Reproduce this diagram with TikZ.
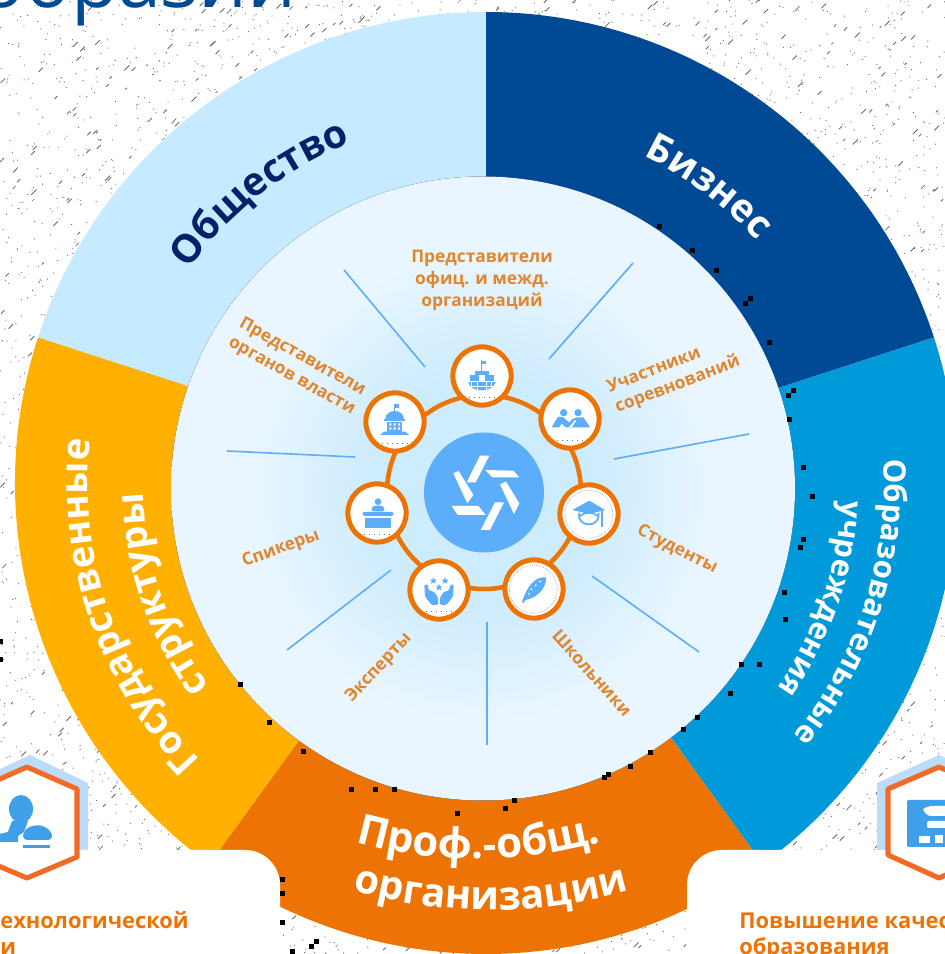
\documentclass[tikz,border=0pt]{standalone}
\usepackage{fontspec}
\setmainfont{Open Sans}
\usetikzlibrary{decorations.text,calc}
\definecolor{secA}{HTML}{C6EAFF}
\definecolor{secB}{HTML}{004A95}
\definecolor{secC}{HTML}{009ADB}
\definecolor{secD}{HTML}{ED7404}
\definecolor{secE}{HTML}{FFB000}
\definecolor{navy}{HTML}{00226B}
\definecolor{lblor}{HTML}{E2862E}
\definecolor{sky}{HTML}{5CAEFB}
\definecolor{hexo}{HTML}{F26A25}
\definecolor{hexl}{HTML}{BCDCFB}
\definecolor{hexi}{HTML}{3F9FE8}
\definecolor{dA}{HTML}{CDECFE}
\definecolor{dB}{HTML}{EAF6FF}
\definecolor{dC}{HTML}{D6EEFD}
\pgfdeclareradialshading{discshade}{\pgfpoint{0bp}{0bp}}{color(0bp)=(dA);color(9bp)=(dA);color(19bp)=(dB);color(29bp)=(dB);color(35.4bp)=(dC);color(50bp)=(dC)}
\tikzset{
  px/.style={shift={(0,954)},y=-.75pt},
  zm/.style={shift={(330,614)},x=.25pt,y=-.25pt},
  bub/.style={circle,draw=secD,line width=3.75pt,fill=white,minimum size=43.7pt,inner sep=0pt},
  lbl/.style={text=lblor,font=\fontsize{13}{16.5}\selectfont\bfseries,align=center,inner sep=0pt},
  spoke/.style={draw=sky,line width=1.2pt},
  ic/.style={fill=sky,draw=none},
  icl/.style={draw=sky,line width=1.3pt,fill=none},
  blk/.style={fill=black,draw=none},
  card/.style={text=secD,font=\fontsize{16.4}{19}\selectfont\bfseries,inner sep=0pt}
}
\newcommand{\arctext}[6]{\path[decorate,decoration={text along path,text align=center,text={|\fontsize{#4}{#4}\selectfont\bfseries\color{#5}|#6}}] ($(C)+(#1:#3)$) arc (#1:#2:#3);}
\newcommand{\arctextat}[7]{\path[decorate,decoration={text along path,text align=center,text={|\fontsize{#5}{#5}\selectfont\bfseries\color{#6}|#7}}] ($(#1)+(#2:#4)$) arc (#2:#3:#4);}
\newcommand{\sector}[3]{\fill[#3] (C) -- ($(C)+(#1:471)$) arc (#1:#2:471) -- cycle;}
\begin{document}
\begin{tikzpicture}[x=.75pt,y=.75pt]
\useasboundingbox (0,0) rectangle (945,954);
\clip (0,0) rectangle (945,954);
\fill[white] (0,0) rectangle (945,954);
\coordinate (C) at (486,471);
\coordinate (Cp) at (478,545);
\coordinate (Co) at (491,544);
% background speckle
\pgfmathsetseed{7}
\begin{scope}[px]
\foreach \i in {1,...,8000}{
  \pgfmathsetmacro\xx{rnd*945}
  \pgfmathsetmacro\yy{rnd*954}
  \pgfmathsetmacro\ll{rnd<0.85 ? 0.4 : 1.5+rnd*3.5}
  \draw[black!58,line width=.65pt,line cap=round] (\xx,\yy) -- ++(\ll,-\ll);
}
\node[anchor=base west,inner sep=0pt,text=secB,font=\fontsize{58}{58}\selectfont] (title) at (-22,8) {образии};
\end{scope}
% sectors
\sector{90}{162}{secA}
\sector{18}{90}{secB}
\sector{-54}{18}{secC}
\sector{-126}{-54}{secD}
\sector{162}{234}{secE}
\begin{scope}[px]
\fill[hexl] (30,755) -- (88,783) -- (88,860) -- (-30,860) -- (-30,783) -- cycle;
\fill[hexl] (939,755) -- (877,783) -- (877,860) -- (1000,860) -- (1000,783) -- cycle;
\fill[white,rounded corners=26.25pt] (-60,850) -- (280,850) -- (280,1020) -- (-60,1020) -- cycle;
\fill[white,rounded corners=26.25pt] (687,1020) -- (687,850) -- (1010,850) -- (1010,1020) -- cycle;
\draw[hexo,line width=3.8pt,fill=white,line join=round] (27,767) -- (77,789) -- (77,857) -- (27,878) -- (-23,857) -- (-23,789) -- cycle;
\draw[hexo,line width=3.8pt,fill=white,line join=round] (939,767) -- (888,789) -- (888,855) -- (939,878) -- (990,855) -- (990,789) -- cycle;
% person icon
\fill[hexi] (21,809) ellipse (12 and 14);
\fill[hexi] (12,821) -- (28,821) -- (24,832) -- (18,836) -- (18,842) -- (-10,842) -- (-10,836) -- (8,832) -- cycle;
\fill[hexi,rounded corners=3pt] (23,832) -- (30,826) -- (42,825) -- (52,832) -- (52,840) -- (23,840) -- cycle;
\fill[hexi] (23,845) rectangle (50,848);
% document icon
\fill[hexi,rounded corners=1pt] (907,800) rectangle (950,847);
\fill[white,rounded corners=2pt] (922,809) -- (930,806) -- (950,806) -- (950,816) -- (928,816) -- cycle;
\fill[white,rounded corners=1.5pt] (927,821) rectangle (950,828);
\fill[white] (919,836) -- (930,836) -- (930,843) -- (919,843) -- cycle;
\fill[white] (935,835) -- (943,835) -- (943,843) -- (935,843) -- cycle;
\end{scope}
% inner disc
\fill[shading=discshade] (483,465.5) circle (312);
\begin{scope}[px]
\draw[spoke] (344,270) -- (425,367);
\draw[spoke] (633,263) -- (549,359);
\draw[spoke] (749,434) -- (614,459);
\draw[spoke] (592,576) -- (699,652);
\draw[spoke] (487,622) -- (487,745);
\draw[spoke] (391,570) -- (287,650);
\draw[spoke] (355,457) -- (227,451);
\node[circle,draw=secD,line width=3.4pt,minimum size=145.5pt,inner sep=0pt] (ring) at (484,492) {};
\node[circle,fill=sky,minimum size=90pt,inner sep=0pt] (hub) at (484,492.5) {};
\node[bub] (n1) at (482,376) {};
\node[bub] (n2) at (570,419) {};
\node[bub] (n3) at (589,514) {};
\node[bub] (n4) at (534,589) {};
\node[bub] (n5) at (439,590) {};
\node[bub] (n6) at (377,513) {};
\node[bub] (n7) at (395,422) {};
\foreach \cx/\cy in {482/376,570/419,377/513,395/422,439/590}{
  \draw[black!55,line width=.4pt,dash pattern=on .8pt off 3pt] (\cx-13,\cy+21) -- (\cx+13,\cy+21);
}
\node[lbl] (l1) at (482,280) {Представители\\офиц. и межд.\\организаций};
\node[lbl,rotate=21,align=left] (l2) at (674,375) {Участники\\соревнований};
\node[lbl,rotate=-27] (l3) at (677,550) {Студенты};
\node[lbl,rotate=-48] (l4) at (592,673) {Школьники};
\node[lbl,rotate=47] (l5) at (379,668) {Эксперты};
\node[lbl,rotate=20] (l6) at (281,549) {Спикеры};
\node[lbl,rotate=-29,align=left] (l7) at (297,367) {Представители\\органов власти};
\node[card,anchor=base east] (c1) at (189,928) {ехнологической};
\node[card,anchor=base west] (c2) at (0,955) {и};
\node[card,anchor=base west] (c3) at (739,928) {Повышение качества};
\node[card,anchor=base west] (c4) at (739,955) {образования};
\foreach \bx/\by in {659/227,692/251,716/271,750/299,745/304,769/343,793/391,788/396,789/420,803/468,812/497,803/540,800/548,784/593,785/620,759/665,741/665,730/694,697/718,683/730,650/753,630/767,604/778,608/775,514/801,505/809,457/814,394/790,375/790,351/790,303/752,269/723,240/685,282/880,282/894,282/923,316/942,311/947,292/952,0/642,0/660}{
  \fill[blk] (\bx-2.5,\by-2.5) rectangle (\bx+2.5,\by+2.5);
}
\end{scope}
% icons and logo, in 3x crop coordinates
\begin{scope}[zm]
% logo
\fill[white] (450,347) -- (478,347) -- (437,427) -- (410,427) -- cycle;
\fill[white] (465,390) -- (550,392) -- (568,412) -- (487,412) -- cycle;
\fill[white] (510,433) -- (528,425) -- (568,490) -- (552,522) -- cycle;
\fill[white] (495,487) -- (522,487) -- (480,570) -- (452,570) -- cycle;
\fill[white] (365,498) -- (445,498) -- (467,525) -- (383,525) -- cycle;
\fill[white] (370,400) -- (386,393) -- (430,465) -- (412,490) -- cycle;
% n1 building on globe
\fill[ic] (452,60) rectangle (455,92);
\fill[ic] (455,62) -- (468,62) -- (468,73) -- (455,73) -- cycle;
\fill[ic] (435,92) rectangle (477,125);
\fill[ic] (420,104) rectangle (492,125);
\fill[ic] (414,125) .. controls (420,160) and (490,160) .. (497,125) -- cycle;
\draw[white,line width=.5pt] (414,125) -- (497,125) (425,125) -- (425,140) (442,125) -- (442,150) (468,125) -- (468,150) (485,125) -- (485,140) (422,138) -- (490,138);
\fill[white] (447,105) rectangle (465,125);
% n7 capitol
\fill[ic] (192,192) rectangle (195,215);
\fill[ic] (195,193) -- (208,193) -- (208,204) -- (195,204) -- cycle;
\fill[ic] (166,237) .. controls (168,205) and (220,205) .. (222,237) -- cycle;
\fill[ic] (163,238) rectangle (225,243);
\fill[ic] (172,245) rectangle (216,275);
\fill[ic] (162,275) -- (226,275) -- (238,285) -- (150,285) -- cycle;
\fill[white] (178,250) rectangle (184,257) (191,250) rectangle (197,257) (204,250) rectangle (210,257) (178,262) rectangle (184,269) (191,262) rectangle (197,269) (204,262) rectangle (210,269);
% n2 two people
\fill[ic] (701,218) circle (11);
\fill[ic] (744,218) circle (11);
\fill[ic] (665,262) -- (684,230) -- (700,232) -- (718,248) -- (726,238) -- (742,232) -- (760,232) -- (780,262) -- (736,262) -- (722,262) -- (706,262) -- (695,250) -- (688,262) -- cycle;
\fill[white] (717,262) -- (735,240) -- (738,243) -- (725,262) -- cycle;
% n6 speaker
\fill[ic] (144,485) circle (10);
\fill[ic,rounded corners=1pt] (125,514) -- (125,502) -- (133,497) -- (155,497) -- (163,502) -- (163,514) -- cycle;
\fill[ic,rounded corners=1pt] (98,516) rectangle (190,528);
\fill[ic] (104,533) rectangle (184,565);
% n3 graduate
\draw[black!55,line width=.4pt,densely dotted] (777,523) circle (72);
\fill[ic] (727,510) -- (778,482) -- (825,510) -- (778,522) -- cycle;
\draw[icl] (748,518) .. controls (738,565) and (815,565) .. (805,518);
\draw[icl] (750,528) .. controls (765,515) and (790,515) .. (803,528);
\draw[icl] (815,512) -- (815,562);
% n4 feather
\draw[black!55,line width=.4pt,densely dotted] (610,748) circle (72);
\fill[ic] (576,786) .. controls (592,735) and (618,708) .. (648,712) .. controls (650,745) and (620,775) .. (586,780) -- (580,790) -- cycle;
\fill[white] (604,748) circle (3) (617,736) circle (3) (630,724) circle (3) (596,762) circle (2.5);
% n5 hands
\foreach \sx/\sy in {310/722,345/722,327/742}{
  \fill[ic] (\sx,\sy-10) -- (\sx+3,\sy-3) -- (\sx+10,\sy-3) -- (\sx+5,\sy+2) -- (\sx+7,\sy+9) -- (\sx,\sy+5) -- (\sx-7,\sy+9) -- (\sx-5,\sy+2) -- (\sx-10,\sy-3) -- (\sx-3,\sy-3) -- cycle;
}
\fill[ic,rounded corners=1pt] (283,735) -- (292,732) -- (297,752) -- (312,755) -- (324,772) -- (324,795) -- (305,795) -- (285,770) -- cycle;
\fill[ic,rounded corners=1pt] (371,735) -- (362,732) -- (357,752) -- (342,755) -- (330,772) -- (330,795) -- (349,795) -- (369,770) -- cycle;
\end{scope}
% ring labels
\arctext{163}{93}{366}{29.4}{navy}{Общество}
\arctext{83}{23}{363}{29}{white}{Бизнес}
\arctext{239}{159}{398}{28.5}{white}{Государственные}
\arctext{229}{169}{343}{28.5}{white}{структуры}
\arctext{22}{-58}{398}{23.3}{white}{Образовательные}
\arctext{16}{-54}{356}{23}{white}{учреждения}
\arctextat{Cp}{-125}{-55}{450}{31.5}{white}{Проф.-общ.}
\arctextat{Co}{-125}{-55}{500}{30}{white}{организации}
\end{tikzpicture}
\end{document}
